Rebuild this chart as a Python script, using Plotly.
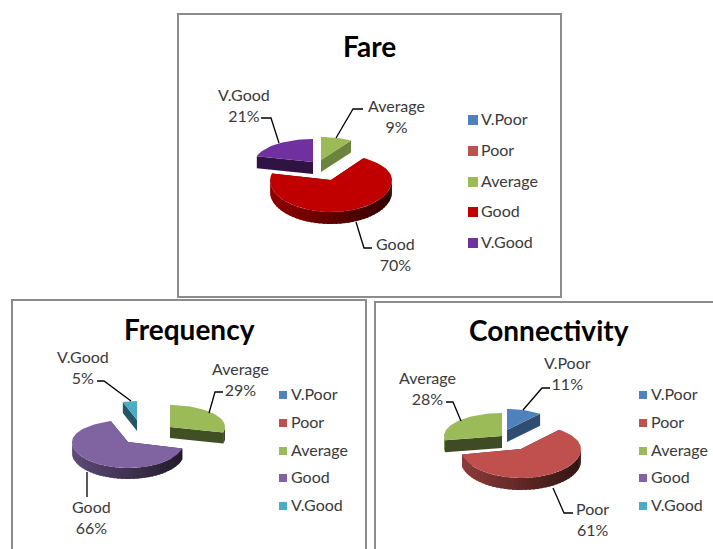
import math
import plotly.graph_objects as go

categories = ["V.Poor", "Poor", "Average", "Good", "V.Good"]
fare_values = [0, 0, 9, 70, 21]
frequency_values = [0, 0, 29, 66, 5]
connectivity_values = [11, 61, 28, 0, 0]
titles = ["Fare", "Frequency", "Connectivity"]

OFFICE = ["#4F81BD", "#C0504D", "#9BBB59", "#8064A2", "#4BACC6"]
FARE = ["#4F81BD", "#C0504D", "#9BBB59", "#C00000", "#7030A0"]

# slice layout: category index -> (vertex x, vertex y, rx, ry front, cut-face shade, ry back)
CHARTS = [
    dict(title="Fare", values=fare_values, colors=FARE, title_xy=(369, 45.5), depth=12,
         geom={2: (321, 160, 56, 23, .70, 23), 3: (331, 180, 61, 32, .4, 26), 4: (313, 162, 58, 23, .42, 23)},
         labels={2: (396, 115.5), 3: (395, 254), 4: (244, 104.5)},
         leaders={2: [(363, 109), (353, 109), (336, 138)], 3: [(372, 248), (364, 248), (356, 222)],
                  4: [(261, 118), (271, 118), (279, 143)]},
         legend=(473, [120, 151, 182, 212, 243]), marker=10),
    dict(title="Frequency", values=frequency_values, colors=OFFICE, title_xy=(189, 328.5), depth=11,
         geom={2: (170, 427, 55, 22, .42, 22), 3: (128, 442, 56, 26, .4, 22), 4: (137, 420, 46, 19, .5, 19)},
         labels={2: (240, 378.5), 3: (91, 516.5), 4: (83, 366.5)},
         leaders={2: [(223, 392), (215, 392), (209, 413)], 3: [(87, 497), (87, 472)],
                  4: [(97, 381), (104, 381), (131, 401)]},
         legend=(283, [395, 423, 451, 478, 506]), marker=8),
    dict(title="Connectivity", values=connectivity_values, colors=OFFICE, title_xy=(549, 329.5), depth=12,
         geom={0: (507, 430, 52, 21, .6, 21), 1: (521, 449, 60, 29, .4, 25), 2: (502, 436, 58, 23, .4, 23)},
         labels={0: (567, 373), 1: (592, 519), 2: (427, 388)},
         leaders={0: [(550, 388), (542, 388), (523, 410)], 1: [(573, 513), (564, 513), (553, 488)],
                  2: [(446, 402), (453, 402), (461, 421)]},
         legend=(643, [395, 423, 451, 478, 506]), marker=8),
]
PANELS = [(178, 14, 561, 297), (12, 300, 366, 570), (375, 302, 730, 570)]
FONT = "Lato, 'Open Sans', sans-serif"


def shade(color, f):
    r, g, b = (int(color[i:i + 2], 16) for i in (1, 3, 5))
    return f"rgb({r * f:.0f},{g * f:.0f},{b * f:.0f})"


def pt(g, deg, dz=0):
    t = math.radians(deg)
    ry = g[3] if math.cos(t) < 0 else g[5]
    return g[0] + g[2] * math.sin(t), g[1] - ry * math.cos(t) + dz


def poly(fig, pts, color):
    fig.add_trace(go.Scatter(x=[p[0] for p in pts], y=[p[1] for p in pts], mode="lines",
                             fill="toself", fillcolor=color, line=dict(width=0),
                             hoverinfo="skip", showlegend=False))


fig = go.Figure()
for c in CHARTS:
    total = sum(c["values"])
    spans, a = {}, 0.0
    for i, v in enumerate(c["values"]):
        spans[i] = (a, a + 360 * v / total)
        a += 360 * v / total
    d = c["depth"]
    for i in sorted(c["geom"], key=lambda k: c["geom"][k][1]):
        g = c["geom"][i]
        a0, a1 = spans[i]
        col = c["colors"][i]
        v0, v1 = (g[0], g[1]), (g[0], g[1] + d)
        # cut faces
        for e in (a0, a1):
            poly(fig, [v0, pt(g, e), pt(g, e, d), v1], shade(col, g[4]))
        # outer wall, shaded in narrow overlapping strips
        lo, hi = max(a0, 90), min(a1, 270)
        if hi > lo:
            n = max(2, int((hi - lo) / 4))
            for k in range(n):
                s0 = lo + (hi - lo) * k / n
                s1 = min(hi, lo + (hi - lo) * (k + 1) / n + 2)
                m = math.sin(math.radians(s0 + (hi - lo) / n / 2))
                f = 0.50 - 0.24 * m
                poly(fig, [pt(g, s0), pt(g, s1), pt(g, s1, d), pt(g, s0, d)], shade(col, f))
        # top face
        n = max(2, int((a1 - a0) / 3))
        arc = [pt(g, a0 + (a1 - a0) * k / n) for k in range(n + 1)]
        poly(fig, [v0] + arc, col)
    # leader lines
    for pts in c["leaders"].values():
        fig.add_trace(go.Scatter(x=[p[0] for p in pts], y=[p[1] for p in pts], mode="lines",
                                 line=dict(color="#000000", width=1.3), hoverinfo="skip",
                                 showlegend=False))
    # data labels
    for i, (x, y) in c["labels"].items():
        fig.add_annotation(x=x, y=y, text=f"{categories[i]}<br>{c['values'][i]}%", showarrow=False,
                           font=dict(family=FONT, size=16, color="#3a3a3a"), align="center")
    # legend
    lx, ly = c["legend"]
    fig.add_trace(go.Scatter(x=[lx] * 5, y=ly, mode="markers",
                             marker=dict(symbol="square", size=c["marker"], color=c["colors"]),
                             hoverinfo="skip", showlegend=False))
    fig.add_trace(go.Scatter(x=[lx + 8] * 5, y=[v + 1 for v in ly], mode="text", text=categories,
                             textposition="middle right",
                             textfont=dict(family=FONT, size=16, color="#3a3a3a"),
                             hoverinfo="skip", showlegend=False))
    fig.add_annotation(x=c["title_xy"][0], y=c["title_xy"][1], text=f"<b>{c['title']}</b>",
                       showarrow=False, font=dict(family=FONT, size=28, color="#000000"))

for x0, y0, x1, y1 in PANELS:
    fig.add_shape(type="rect", x0=x0, y0=y0, x1=x1, y1=y1, line=dict(color="#8c8c8c", width=2),
                  fillcolor="rgba(0,0,0,0)", layer="below")

fig.update_layout(width=713, height=549, margin=dict(l=0, r=0, t=0, b=0), showlegend=False,
                  paper_bgcolor="white", plot_bgcolor="white",
                  xaxis=dict(range=[0, 713], visible=False, fixedrange=True),
                  yaxis=dict(range=[549, 0], visible=False, fixedrange=True))
fig.write_html("out.html", config={"displayModeBar": False},
               post_script="document.body.style.margin='0';")
